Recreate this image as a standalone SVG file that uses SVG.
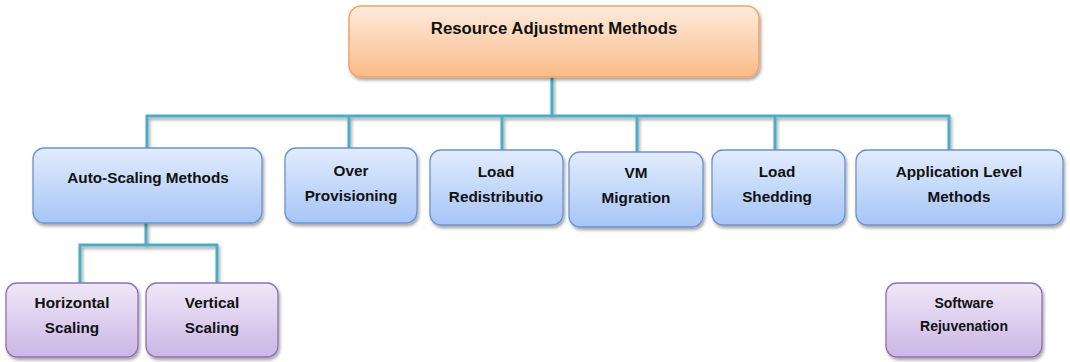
<svg xmlns="http://www.w3.org/2000/svg" width="1070" height="362" viewBox="0 0 1070 362">
<defs>
<linearGradient id="gO" x1="0" y1="0" x2="0" y2="1"><stop offset="0" stop-color="#FDEBDD"/><stop offset="1" stop-color="#FBBB88"/></linearGradient>
<linearGradient id="gB" x1="0" y1="0" x2="0" y2="1"><stop offset="0" stop-color="#E2ECFC"/><stop offset="1" stop-color="#A6C5F7"/></linearGradient>
<linearGradient id="gP" x1="0" y1="0" x2="0" y2="1"><stop offset="0" stop-color="#EFE8F7"/><stop offset="1" stop-color="#CBB5E6"/></linearGradient>
<filter id="sh" x="-10%" y="-10%" width="125%" height="135%"><feDropShadow dx="1.5" dy="2.5" stdDeviation="1.5" flood-color="#000" flood-opacity="0.35"/></filter>
</defs>
<style>
.o{fill:url(#gO);stroke:#F4A266;stroke-width:1.5;filter:url(#sh)}
.b{fill:url(#gB);stroke:#6A93CF;stroke-width:1.3;filter:url(#sh)}
.p{fill:url(#gP);stroke:#8E72B5;stroke-width:1.3;filter:url(#sh)}
text{font-family:"Liberation Sans",Arial,sans-serif;font-weight:700;font-size:15.3px;fill:#111;text-anchor:middle}
.c{fill:none;stroke:#4BACC6;stroke-width:3;filter:url(#sh)}
</style>
<g id="connectors">
<path class="c" d="M552 77V116M147 148V116H949V150M349 116V148M502 116V150M637 116V152M775 116V150"/>
<path class="c" d="M146 223V245M80 283V245H217V283"/>
<path class="c" d="M958 225V283"/>
</g>
<g id="root"><rect class="o" x="349" y="6" width="410" height="71" rx="12"/><text x="554" y="34" style="font-size:16.8px">Resource Adjustment Methods</text></g>
<g id="auto"><rect class="b" x="33" y="148" width="229" height="75" rx="11"/><text x="148" y="183">Auto-Scaling Methods</text></g>
<g id="over"><rect class="b" x="285" y="148" width="132" height="75" rx="11"/><text x="351" y="176">Over</text><text x="351" y="201">Provisioning</text></g>
<g id="loadred"><rect class="b" x="430" y="150" width="133" height="75" rx="11"/><text x="496" y="177">Load</text><text x="496" y="202">Redistributio</text></g>
<g id="vm"><rect class="b" x="569" y="152" width="134" height="75" rx="11"/><text x="636" y="178">VM</text><text x="636" y="203">Migration</text></g>
<g id="shed"><rect class="b" x="712" y="150" width="133" height="75" rx="11"/><text x="777" y="177">Load</text><text x="777" y="202">Shedding</text></g>
<g id="app"><rect class="b" x="856" y="150" width="207" height="75" rx="11"/><text x="959" y="177">Application Level</text><text x="959" y="202">Methods</text></g>
<g id="horiz"><rect class="p" x="6" y="283" width="132" height="74" rx="11"/><text x="72" y="308">Horizontal</text><text x="72" y="333">Scaling</text></g>
<g id="vert"><rect class="p" x="146" y="283" width="132" height="74" rx="11"/><text x="212" y="308">Vertical</text><text x="212" y="333">Scaling</text></g>
<g id="soft"><rect class="p" x="886" y="283" width="156" height="74" rx="11"/><text x="964" y="308" style="font-size:14px">Software</text><text x="964" y="331" style="font-size:14px">Rejuvenation</text></g>
</svg>
